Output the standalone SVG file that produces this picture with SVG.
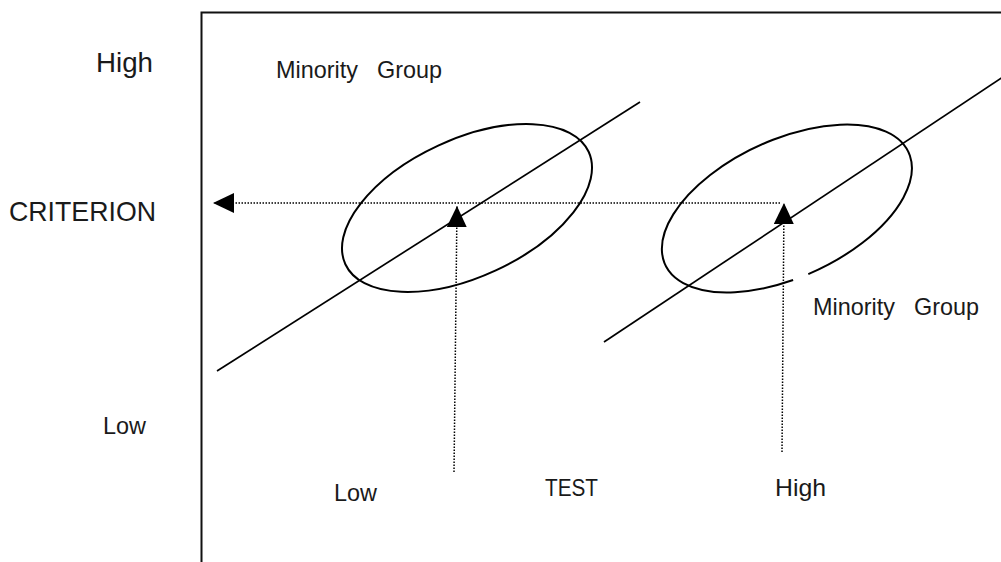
<svg xmlns="http://www.w3.org/2000/svg" width="1001" height="562" viewBox="0 0 1001 562">
  <style>
    .lbl { font-family: "Liberation Sans", Arial, sans-serif; fill: #1a1a1a; }
    .solid { stroke: #000; stroke-width: 1.7; fill: none; }
    .ell { stroke: #000; stroke-width: 2; fill: none; }
    .dot { stroke: #000; stroke-width: 1.5; stroke-dasharray: 1.5 1.5; fill: none; }
  </style>
  <defs>
    <marker id="tri" markerUnits="userSpaceOnUse" markerWidth="21" markerHeight="20" refX="21" refY="10" orient="auto">
      <path d="M0,0 L21,10 L0,20 Z" fill="#000"/>
    </marker>
  </defs>
  <rect width="1001" height="562" fill="#fff"/>

  <g id="frame">
    <path d="M201.5 570 V12.5 H1010" stroke="#111" stroke-width="2" fill="none"/>
  </g>

  <g id="axis-labels">
    <text class="lbl" x="96" y="72" font-size="28" textLength="57" lengthAdjust="spacingAndGlyphs">High</text>
    <text class="lbl" x="9" y="221" font-size="28" textLength="147" lengthAdjust="spacingAndGlyphs">CRITERION</text>
    <text class="lbl" x="103" y="434" font-size="23" textLength="43" lengthAdjust="spacingAndGlyphs">Low</text>
    <text class="lbl" x="334" y="501" font-size="24" textLength="43" lengthAdjust="spacingAndGlyphs">Low</text>
    <text class="lbl" x="545" y="496" font-size="24" textLength="53" lengthAdjust="spacingAndGlyphs">TEST</text>
    <text class="lbl" x="775" y="496" font-size="24" textLength="51" lengthAdjust="spacingAndGlyphs">High</text>
  </g>

  <g id="group-left">
    <line class="solid" x1="217" y1="371" x2="640" y2="102"/>
    <ellipse class="ell" cx="467" cy="208" rx="134" ry="68.7" transform="rotate(-24.8 467 208)"/>
    <text class="lbl" font-size="24"><tspan x="276" y="78" textLength="82" lengthAdjust="spacingAndGlyphs">Minority</tspan><tspan x="377" y="78" textLength="65" lengthAdjust="spacingAndGlyphs">Group</tspan></text>
  </g>

  <g id="group-right">
    <line class="solid" x1="604" y1="342" x2="1005" y2="75.5"/>
    <path class="ell" d="M808.3 274.1 A134 68.7 -24.8 1 0 793.1 280"/>
    <text class="lbl" font-size="24"><tspan x="813" y="315" textLength="82" lengthAdjust="spacingAndGlyphs">Minority</tspan><tspan x="914" y="315" textLength="65" lengthAdjust="spacingAndGlyphs">Group</tspan></text>
  </g>

  <g id="connectors">
    <line class="dot" x1="780" y1="203" x2="213" y2="203" marker-end="url(#tri)"/>
    <line class="dot" x1="454" y1="472" x2="457" y2="206" marker-end="url(#tri)"/>
    <line class="dot" x1="782" y1="452" x2="784" y2="203" marker-end="url(#tri)"/>
  </g>
</svg>
